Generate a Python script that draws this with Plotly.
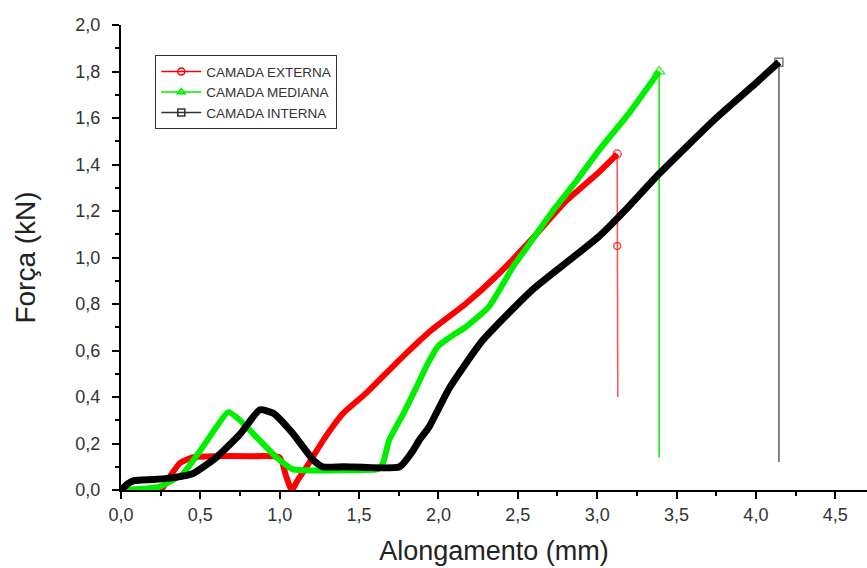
import plotly.graph_objects as go

# ---------------- data ----------------
ext_x = [0, 0.25, 0.30, 0.37, 0.45, 0.60, 0.80, 1.00, 1.04, 1.075, 1.12, 1.17, 1.28, 1.40, 1.55,
         1.755, 1.96, 2.17, 2.38, 2.59, 2.80, 3.00, 3.126]
ext_y = [0, 0, 0.05, 0.115, 0.14, 0.145, 0.145, 0.14, 0.06, 0.0, 0.05, 0.10, 0.22, 0.33, 0.42,
         0.56, 0.69, 0.80, 0.93, 1.08, 1.24, 1.36, 1.445]
ext_drop_x = [3.126, 3.126, 3.13]
ext_drop_y = [1.445, 1.05, 0.40]

med_x = [0, 0.245, 0.39, 0.50, 0.60, 0.675, 0.75, 0.85, 0.98, 1.08, 1.15, 1.40, 1.62, 1.65, 1.69,
         1.78, 1.86, 1.93, 2.00, 2.10, 2.17, 2.32, 2.47, 2.59, 2.72, 2.87, 3.01, 3.20, 3.39]
med_y = [0, 0.015, 0.07, 0.17, 0.27, 0.335, 0.30, 0.23, 0.14, 0.09, 0.085, 0.085, 0.09, 0.115, 0.215,
         0.33, 0.44, 0.54, 0.62, 0.67, 0.70, 0.79, 0.96, 1.075, 1.20, 1.33, 1.46, 1.62, 1.80]
med_drop_x = [3.39, 3.39]
med_drop_y = [1.80, 0.14]

int_x = [0, 0.04, 0.08, 0.20, 0.29, 0.45, 0.60, 0.75, 0.875, 0.96, 1.08, 1.21, 1.27, 1.40, 1.755,
         1.84, 1.88, 1.94, 2.07, 2.28, 2.59, 2.80, 3.01, 3.20, 3.39, 3.75, 4.00, 4.145]
int_y = [0, 0.025, 0.04, 0.045, 0.05, 0.07, 0.14, 0.24, 0.345, 0.33, 0.245, 0.13, 0.10, 0.10, 0.10,
         0.17, 0.215, 0.27, 0.44, 0.645, 0.86, 0.975, 1.09, 1.22, 1.36, 1.60, 1.75, 1.84]
int_drop_x = [4.145, 4.145]
int_drop_y = [1.84, 0.12]

names = ["CAMADA EXTERNA", "CAMADA MEDIANA", "CAMADA INTERNA"]
colors = ["#ff0000", "#00ee00", "#000000"]
drop_colors = ["#ff5050", "#00ee00", "#808080"]
symbols = ["circle-open", "triangle-up-open", "square-open"]

x_ticks = [0, 0.5, 1.0, 1.5, 2.0, 2.5, 3.0, 3.5, 4.0, 4.5]
y_ticks = [0, 0.2, 0.4, 0.6, 0.8, 1.0, 1.2, 1.4, 1.6, 1.8, 2.0]

fig = go.Figure()

curves = [(ext_x, ext_y, ext_drop_x, ext_drop_y),
          (med_x, med_y, med_drop_x, med_drop_y),
          (int_x, int_y, int_drop_x, int_drop_y)]
widths = [6, 6, 7]
drop_sizes = [[8, 7, 0], [10, 0], [8, 0]]

for i, (cx, cy, dx, dy) in enumerate(curves):
    fig.add_trace(go.Scatter(x=dx, y=dy, mode="lines+markers", showlegend=False,
                             line=dict(color=drop_colors[i], width=1.5 if i < 2 else 2),
                             marker=dict(symbol=symbols[i], size=drop_sizes[i],
                                         color=colors[i] if i < 2 else "#444",
                                         line=dict(width=1.5)),
                             hoverinfo="skip"))
for i, (cx, cy, dx, dy) in enumerate(curves):
    fig.add_trace(go.Scatter(x=cx, y=cy, mode="lines", showlegend=False,
                             line=dict(color=colors[i], width=widths[i], shape="spline", smoothing=0.5)))

for i in range(3):
    fig.add_trace(go.Scatter(x=[None], y=[None], mode="lines+markers", name=names[i],
                             line=dict(color=colors[i] if i < 2 else "#333", width=1.5),
                             marker=dict(symbol=symbols[i], size=7, color=colors[i] if i < 2 else "#333",
                                         line=dict(width=1.5))))

fig.update_layout(
    width=867, height=568,
    margin=dict(l=121, r=0, t=25, b=78),
    paper_bgcolor="white", plot_bgcolor="white",
    separators=",.",
    font=dict(family="Liberation Sans, Arial, sans-serif", color="#333"),
    showlegend=True,
    legend=dict(x=0.046, y=0.935, xanchor="left", yanchor="top",
                bordercolor="#333", borderwidth=1, bgcolor="white",
                font=dict(size=13.5, color="#333"), tracegroupgap=0,
                itemwidth=40, entrywidth=210, entrywidthmode="pixels"),
)
fig.update_xaxes(range=[0, 4.70], tickvals=x_ticks, tickformat=".1f",
                 showline=True, linecolor="black", linewidth=2,
                 ticks="outside", ticklen=7, tickwidth=2, tickcolor="black",
                 minor=dict(dtick=0.25, tick0=0, ticks="outside", ticklen=4, tickwidth=2, tickcolor="black"),
                 showgrid=False, zeroline=False,
                 tickfont=dict(size=18, color="#333"),
                 title=dict(text="Alongamento (mm)", font=dict(size=27, color="#222"), standoff=18))
fig.update_yaxes(range=[0, 2.0], tickvals=y_ticks, tickformat=".1f",
                 showline=True, linecolor="black", linewidth=2,
                 ticks="outside", ticklen=7, tickwidth=2, tickcolor="black",
                 minor=dict(dtick=0.1, tick0=0, ticks="outside", ticklen=4, tickwidth=2, tickcolor="black"),
                 showgrid=False, zeroline=False, ticklabelstandoff=8,
                 tickfont=dict(size=18, color="#333"),
                 title=dict(text="Força (kN)", font=dict(size=28, color="#222"), standoff=32))

fig.write_html("out.html", config={"displayModeBar": False},
               post_script="document.body.style.margin='0';")
